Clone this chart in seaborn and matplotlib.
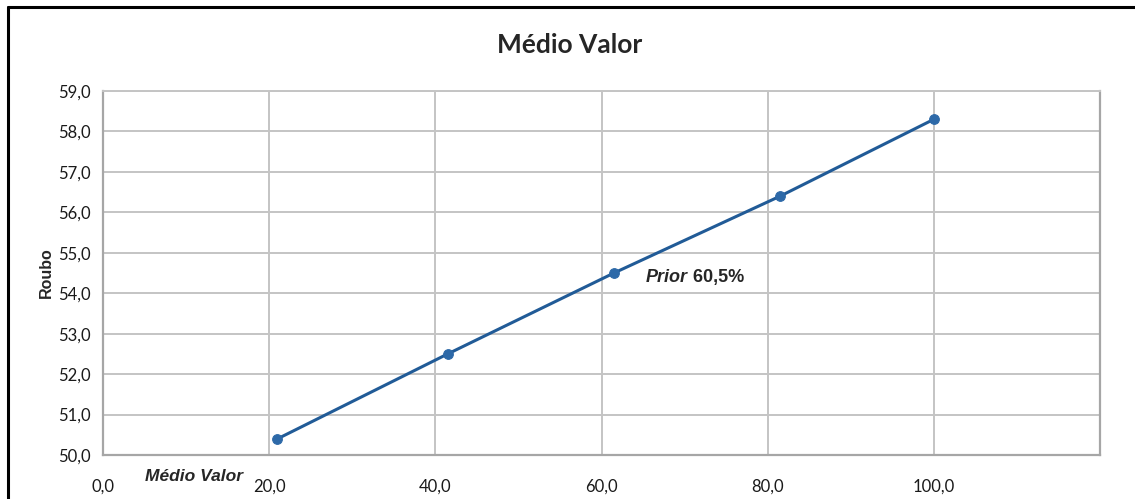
import matplotlib
matplotlib.use("Agg")
import matplotlib.pyplot as plt
import matplotlib.transforms as mtransforms
from matplotlib.lines import Line2D
import seaborn as sns
import pandas as pd

# Data
medio_valor = [21.0, 41.5, 61.5, 81.5, 100.0]
roubo = [50.4, 52.5, 54.5, 56.4, 58.3]
x_ticks = [0, 20, 40, 60, 80, 100]
y_ticks = [50, 51, 52, 53, 54, 55, 56, 57, 58, 59]
title = "Médio Valor"
y_label = "Roubo"
x_note = "Médio Valor"
prior_word = "Prior"
prior_value = " 60,5%"

sns.set_style("white")
plt.rcParams["font.family"] = ["Lato", "DejaVu Sans"]

df = pd.DataFrame({"x": medio_valor, "y": roubo})

fig = plt.figure(figsize=(11.35, 4.99), dpi=100)
ax = fig.add_axes([103 / 1135, 1 - 455 / 499, (1100 - 103) / 1135, (455 - 91) / 499])

sns.lineplot(data=df, x="x", y="y", ax=ax, color="#215B97", linewidth=2.2,
             marker="o", markersize=7, markerfacecolor="#2D69A8",
             markeredgecolor="#2D69A8", zorder=3)

ax.set_xlim(0, 120)
ax.set_ylim(50, 59)
ax.set_xticks(x_ticks)
ax.set_yticks(y_ticks)
ax.set_xticklabels([f"{v:.1f}".replace(".", ",") for v in x_ticks])
ax.set_yticklabels([f"{v:.1f}".replace(".", ",") for v in y_ticks])
ax.tick_params(axis="x", length=0, pad=23, labelsize=12, labelcolor="#1a1a1a")
ax.tick_params(axis="y", length=0, pad=9, labelsize=12, labelcolor="#1a1a1a")
for lbl in ax.get_xticklabels():
    lbl.set_verticalalignment("center")

ax.grid(True, color="#C4C4C4", linewidth=1.4)
ax.set_axisbelow(True)
for name, sp in ax.spines.items():
    sp.set_visible(True)
    sp.set_color("#A6A6A6")
    sp.set_linewidth(1.6)
ax.spines["top"].set_color("#C4C4C4")
ax.spines["top"].set_linewidth(1.4)

ax.set_xlabel("")
ax.set_ylabel(y_label, fontsize=11.5, fontweight="bold",
              family=["Liberation Sans", "DejaVu Sans"], labelpad=3)

fig.text(570 / 1135, 1 - 45 / 499, title, ha="center", va="center",
         fontsize=19, fontweight="bold")

trans = mtransforms.blended_transform_factory(ax.transData, ax.transAxes)
ax.text(10.9, -0.058, x_note, transform=trans, ha="center", va="center",
        fontsize=12.5, fontweight="bold", fontstyle="italic",
        family=["Liberation Sans", "DejaVu Sans"])

t1 = ax.text(65.3, 54.4, prior_word, ha="left", va="center", fontsize=13,
             fontweight="bold", fontstyle="italic",
             family=["Liberation Sans", "DejaVu Sans"])
ax.annotate(prior_value, xy=(1, 0), xycoords=t1, ha="left", va="bottom",
            fontsize=13, fontweight="bold",
            family=["Liberation Sans", "DejaVu Sans"])

# Outer frame (top and left edges)
fig.add_artist(Line2D([8 / 1135, 8 / 1135], [0, 1 - 7 / 499],
                      transform=fig.transFigure, color="black", linewidth=2.2))
fig.add_artist(Line2D([8 / 1135, 1], [1 - 7 / 499, 1 - 7 / 499],
                      transform=fig.transFigure, color="black", linewidth=2.2))

fig.savefig("out.png", dpi=100)
